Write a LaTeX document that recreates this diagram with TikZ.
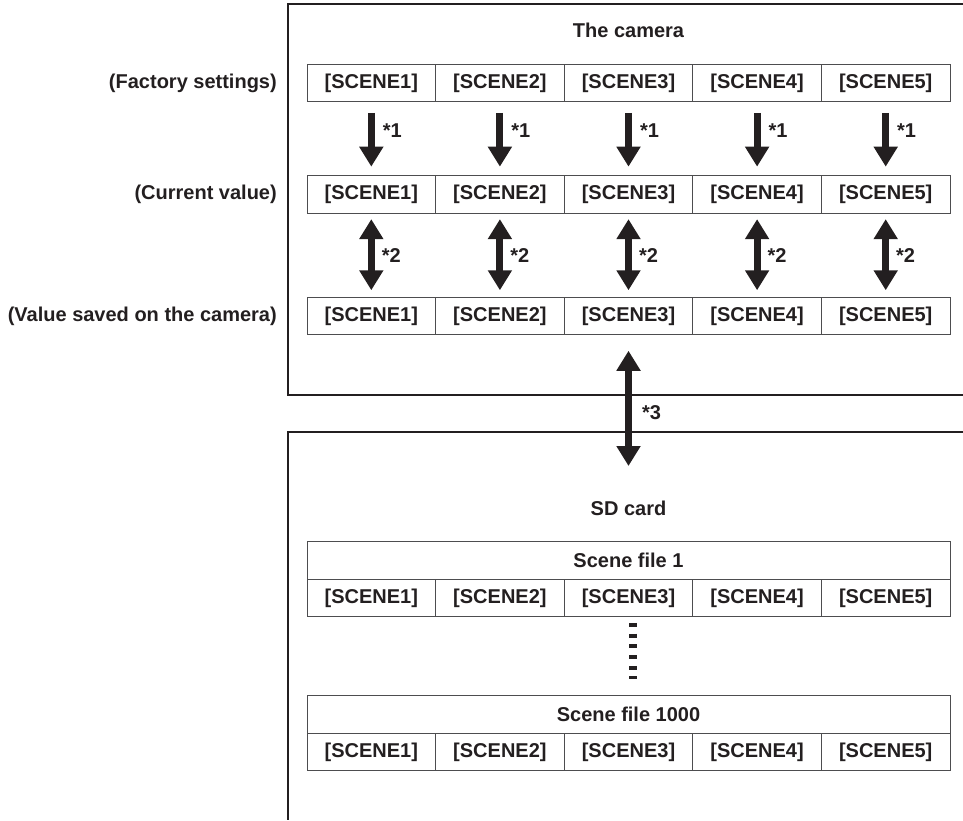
\documentclass[tikz,border=0pt]{standalone}
\usepackage{fontspec}
\setmainfont{Liberation Sans}
\usepackage{xcolor}
\usepackage{tikz}
\usetikzlibrary{positioning,arrows.meta}
\definecolor{cInk}{HTML}{231F20}
\definecolor{cGrid}{HTML}{4D4D4F}
\tikzset{
  txt/.style={font=\bfseries\fontsize{20}{24}\selectfont,text=cInk},
  cell/.style={txt,draw=cGrid,line width=1pt,minimum width=128.6pt,minimum height=37.5pt,inner sep=0pt,outer sep=0pt},
  filehead/.style={cell,minimum width=643pt},
  lbl/.style={txt,inner sep=0pt},
  frame/.style={draw=cInk,line width=2pt},
  arr/.style={-{Triangle[width=23pt,length=20pt]},line width=7pt,draw=cInk},
  darr/.style={{Triangle[width=23pt,length=20pt]}-{Triangle[width=23pt,length=20pt]},line width=7pt,draw=cInk},
  dots/.style={draw=cInk,line width=8.7pt,dash pattern=on 4pt off 6.7pt}}

\begin{document}
\begin{tikzpicture}[x=1pt,y=-1pt]
\useasboundingbox (0,0) rectangle (963,820);
% outer frames
\draw[frame] (963,4) -- (288.3,4) -- (288.3,395) -- (963,395);
\draw[frame] (963,431.7) -- (288.3,431.7) -- (288.3,820);
% camera rows
\foreach \r/\y in {f/83.2,c/194.4,s/316,a/598.2,b/752}
  \foreach \i in {1,...,5}
    \node[cell] (\r\i) at ({307+128.6*(\i-0.5)},\y) {[SCENE\i]};
\node[lbl, above=27pt of f3] (cam) {The camera};
\node[lbl, left=30pt of f1] (lf) {(Factory settings)};
\node[lbl, left=30pt of c1] (lc) {(Current value)};
\node[lbl, left=30pt of s1] (ls) {(Value saved on the camera)};
% SD card
\node[filehead, above=0pt of a3] (ta) {Scene file 1};
\node[filehead, above=0pt of b3] (tb) {Scene file 1000};
\node[lbl, above=26pt of ta] (sd) {SD card};
\coordinate (sdin) at (628.5,466);
\draw[dots, shorten <=6pt, shorten >=17pt] ([xshift=4.5pt]a3.south) -- ([xshift=4.5pt]tb.north);
% arrows
\foreach \i in {1,...,5}{
  \draw[arr, shorten <=11pt, shorten >=9pt] (f\i) -- node[lbl,right=8pt,pos=0.39]{*1} (c\i);
  \draw[darr, shorten <=6pt, shorten >=7pt] (c\i) -- node[lbl,right=7pt]{*2} (s\i);
}
\draw[darr, shorten <=16pt] (s3) -- node[lbl,right=10pt,pos=0.59]{*3} (sdin);
\end{tikzpicture}
\end{document}
